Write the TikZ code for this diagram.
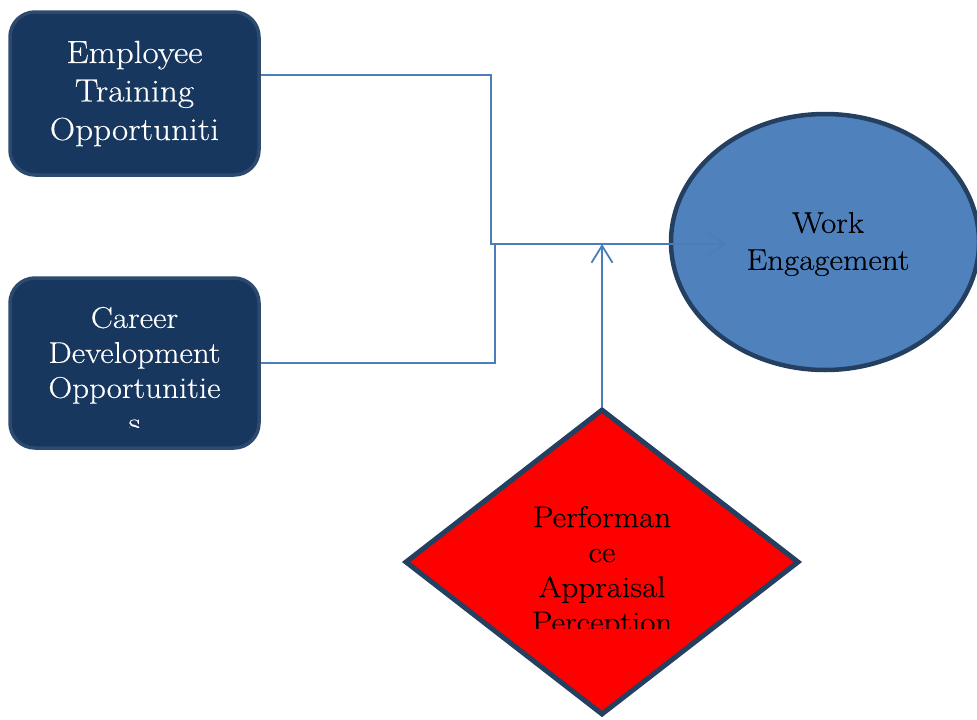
\documentclass[tikz,border=0pt]{standalone}
\usepackage{fontspec}
\newfontfamily\lblfont{Latin Modern Roman}[FakeBold=0.35,FakeStretch=1.1]
\usetikzlibrary{shapes.geometric,arrows.meta}
\definecolor{boxfill}{HTML}{17375E}
\definecolor{boxline}{HTML}{2C4A70}
\definecolor{ellfill}{HTML}{4F81BD}
\definecolor{shapeline}{HTML}{243F60}
\definecolor{connline}{HTML}{4A7EBB}
\begin{document}
\begin{tikzpicture}[x=1pt,y=-1pt,
  rbox/.style={draw=boxline, line width=3.5pt, fill=boxfill, rounded corners=25pt,
    minimum width=249pt, inner sep=0pt},
  ell/.style={ellipse, draw=shapeline, line width=4.5pt, fill=ellfill,
    minimum width=308pt, minimum height=256pt, inner sep=0pt},
  dia/.style={diamond, draw=shapeline, line width=5pt, fill=red,
    minimum width=394pt, minimum height=306pt, inner sep=0pt},
  conn/.style={draw=connline, line width=1.8pt},
  tip/.style={-{Straight Barb[length=17pt,width=21pt,line width=1.8pt]}},
  lbl/.style={align=center, inner sep=0pt}]
\useasboundingbox (0,0) rectangle (977,720);
% shapes
\node[rbox, minimum height=163pt] (b1) at (134.5,93.5) {};
\node[rbox, minimum height=170pt] (b2) at (134.5,363) {};
\node[ell] (we) at (825,242) {};
\node[dia] (pa) at (602,562) {};
% texts
\node[lbl, text=white, font=\lblfont\fontsize{32}{38.5}\selectfont] (t1) at (134.5,93.5) {Employee\\Training\\Opportuniti};
\begin{scope}
  \clip (0,0) rectangle (977,427);
  \node[lbl, text=white, font=\lblfont\fontsize{30}{35}\selectfont] (t2) at (134.5,370) {Career\\Development\\Opportunitie\\s};
\end{scope}
\node[lbl, font=\lblfont\fontsize{30}{37}\selectfont] (t3) at (828,244) {Work\\Engagement};
\begin{scope}
  \clip (0,0) rectangle (977,628);
  \node[lbl, font=\lblfont\fontsize{30}{35}\selectfont] (t4) at (602,572) {Performan\\ce\\Appraisal\\Perception};
\end{scope}
% connectors
\coordinate (j1) at (491,244);
\coordinate (j2) at (495,244);
\coordinate (head) at (727,244);
\coordinate (up) at (602,244);
\draw[conn, tip] ([yshift=18.5pt]b1.east) -| (j1) -- (head);
\draw[conn] (b2.east) -| (j2);
\draw[conn, tip] (pa.north) -- (up);
\end{tikzpicture}
\end{document}
